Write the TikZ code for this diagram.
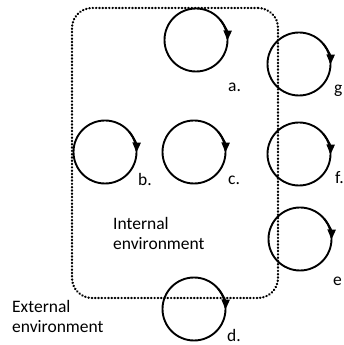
\documentclass[tikz,border=0pt]{standalone}
\usepackage{fontspec}
\setmainfont{Carlito}
\usetikzlibrary{arrows.meta}
\begin{document}
\begin{tikzpicture}[x=1pt,y=1pt,
  loop/.style={line width=1.9pt},
  looptip/.style={line width=1.9pt,-{Triangle[length=10pt,width=8pt]}},
  lbl/.style={anchor=base west,inner sep=0pt,font=\fontsize{17.5}{20}\selectfont},
  envbox/.style={line width=2.4pt,dash pattern=on 0.3pt off 3pt,line cap=round,rounded corners=20pt}]
\useasboundingbox (0,0) rectangle (343,345);
\node[draw,envbox,minimum width=206pt,minimum height=290pt,inner sep=0pt] (box) at (175,192) {};
\foreach \n/\x/\y in {a/196/305, g/299/281, b/105/193, c/194/193, f/299/191, e/300/106, d/194/36}{
  \coordinate (\n) at (\x,\y);
  \draw[loop] (\n) circle[radius=31.5pt];
  \draw[looptip] (\n) ++(40:31.5pt) arc[start angle=40,end angle=-1,radius=31.5pt];
}
\node[lbl] (la) at (228,253) {a.};
\node[lbl] (lg) at (334,251) {g};
\node[lbl] (lb) at (138,159) {b.};
\node[lbl] (lc) at (228,160) {c.};
\node[lbl] (lf) at (335,161) {f.};
\node[lbl] (le) at (333,59) {e};
\node[lbl] (ld) at (227,4) {d.};
\node[lbl,align=left,anchor=north west] (int) at (113,128) {Internal\\environment};
\node[lbl,align=left,anchor=north west] (ext) at (12,45) {External\\environment};
\end{tikzpicture}
\end{document}
